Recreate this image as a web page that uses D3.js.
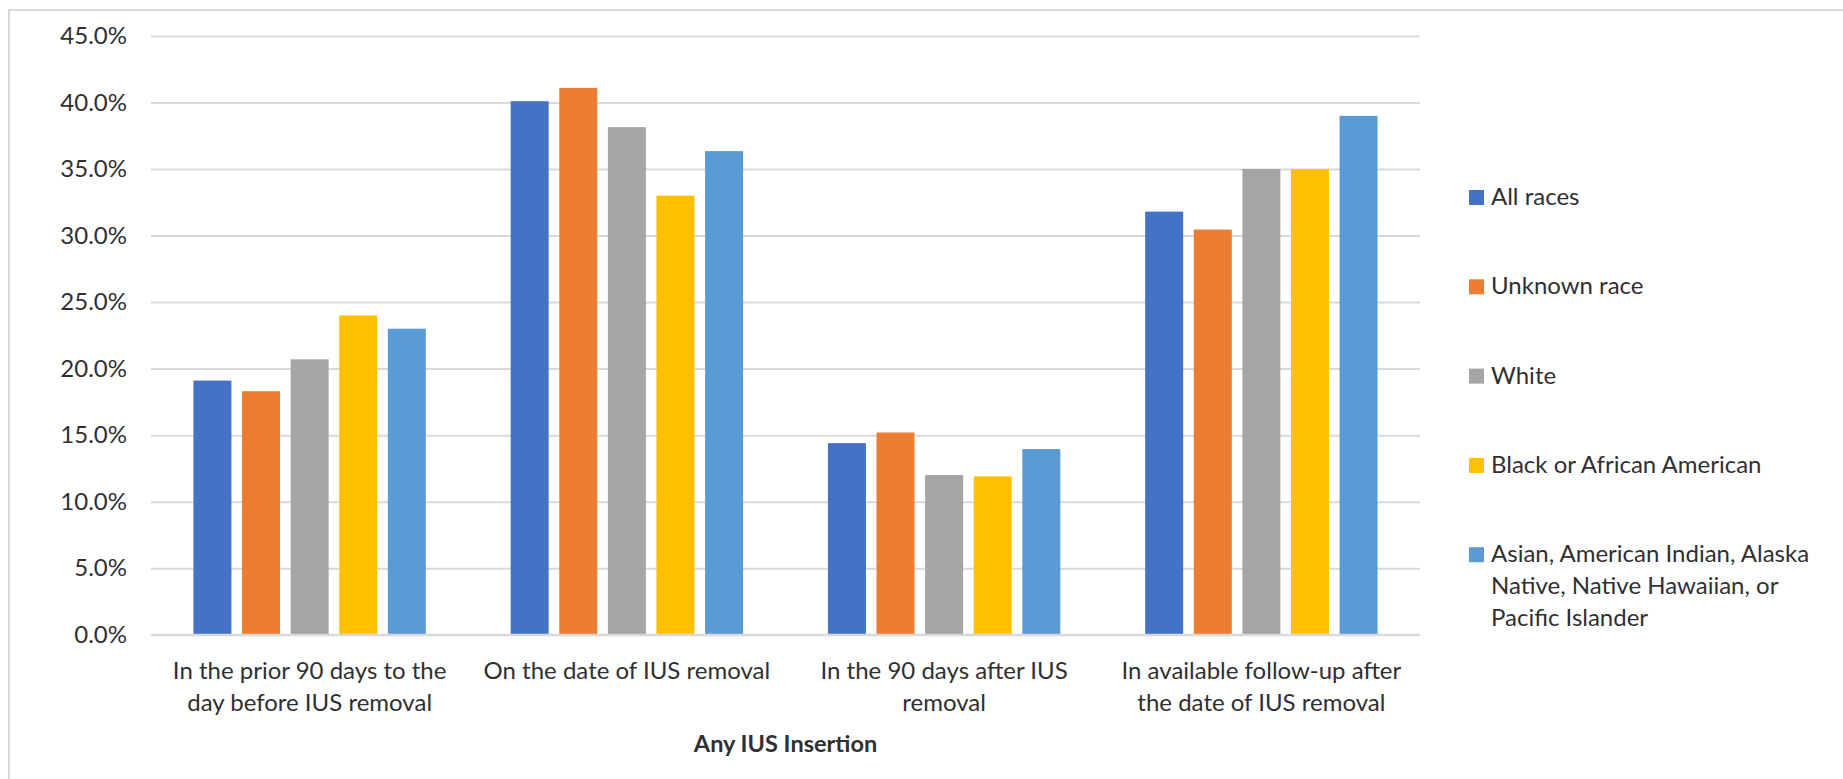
<!DOCTYPE html>
<html>
<head>
<meta charset="utf-8">
<script src="https://cdn.jsdelivr.net/npm/d3@7"></script>
<style>
  html, body { margin: 0; padding: 0; background: #ffffff; }
  svg { display: block; }
  text { font-family: Lato, "Open Sans", sans-serif; fill: #303030; }
</style>
</head>
<body>
<svg id="chart" width="1843" height="779"></svg>
<script>
// ---- data ----
const categories = [
  "In the prior 90 days to the day before IUS removal",
  "On the date of IUS removal",
  "In the 90 days after IUS removal",
  "In available follow-up after the date of IUS removal"
];
const categoryLines = [
  ["In the prior 90 days to the", "day before IUS removal"],
  ["On the date of IUS removal"],
  ["In the 90 days after IUS", "removal"],
  ["In available follow-up after", "the date of IUS removal"]
];
const seriesNames = [
  "All races",
  "Unknown race",
  "White",
  "Black or African American",
  "Asian, American Indian, Alaska Native, Native Hawaiian, or Pacific Islander"
];
const legendLines = [
  ["All races"],
  ["Unknown race"],
  ["White"],
  ["Black or African American"],
  ["Asian, American Indian, Alaska", "Native, Native Hawaiian, or", "Pacific Islander"]
];
const allRaces     = [19.1, 40.1, 14.4, 31.8];
const unknownRace  = [18.3, 41.1, 15.2, 30.45];
const white        = [20.7, 38.15, 12.0, 35.0];
const black        = [24.0, 33.0, 11.9, 35.0];
const asianOther   = [23.0, 36.35, 13.95, 39.0];
const seriesValues = [allRaces, unknownRace, white, black, asianOther];
const yTicks = [0, 5, 10, 15, 20, 25, 30, 35, 40, 45];
const xAxisTitle = "Any IUS Insertion";
const colors = ["#4472C4", "#ED7D31", "#A5A5A5", "#FFC000", "#5B9BD5"];

// ---- layout ----
const svg = d3.select("#chart");
const plot = { left: 151, right: 1420, top: 36, bottom: 634.7 };
const gridColor = "#d9d9d9";
const textColor = "#303030";
const fontSize = 24;

// frame (left & top visible)
svg.append("rect")
  .attr("x", 9).attr("y", 10)
  .attr("width", 1900).attr("height", 900)
  .attr("fill", "none").attr("stroke", gridColor).attr("stroke-width", 2);

const x0 = d3.scaleBand().domain(categories).range([plot.left, plot.right]).padding(0);
const x1 = d3.scaleBand().domain(seriesNames).range([0, x0.bandwidth()])
  .paddingInner(0.218).paddingOuter(0.873);
const y = d3.scaleLinear().domain([0, 45]).range([plot.bottom, plot.top]);

// gridlines
const grid = svg.append("g").attr("transform", `translate(${plot.left},0)`)
  .call(d3.axisLeft(y).tickValues(yTicks).tickSize(-(plot.right - plot.left)).tickFormat(""));
grid.select(".domain").remove();
grid.selectAll(".tick line").attr("stroke", gridColor).attr("stroke-width", 2);

// y labels
const yAxis = svg.append("g").attr("transform", `translate(${plot.left},0)`)
  .call(d3.axisLeft(y).tickValues(yTicks).tickSize(0).tickPadding(24)
    .tickFormat(d => d3.format(".1f")(d) + "%"));
yAxis.select(".domain").remove();
yAxis.selectAll("text")
  .attr("font-size", fontSize).attr("fill", textColor)
  .attr("font-family", "Lato, 'Open Sans', sans-serif");

// bars
const rows = categories.map((c, i) => ({ cat: c, vals: seriesNames.map((s, j) => ({ s, j, v: seriesValues[j][i] })) }));
const groups = svg.append("g").selectAll("g").data(rows).join("g")
  .attr("transform", d => `translate(${x0(d.cat)},0)`);
groups.selectAll("rect").data(d => d.vals).join("rect")
  .attr("x", d => x1(d.s))
  .attr("width", x1.bandwidth())
  .attr("y", d => y(d.v))
  .attr("height", d => y(0) - y(d.v))
  .attr("fill", d => colors[d.j]);

// baseline
svg.append("line")
  .attr("x1", plot.left).attr("x2", plot.right)
  .attr("y1", y(0)).attr("y2", y(0))
  .attr("stroke", gridColor).attr("stroke-width", 2);

// x labels
const xAxis = svg.append("g").attr("transform", `translate(0,${plot.bottom})`)
  .call(d3.axisBottom(x0).tickSize(0).tickFormat(""));
xAxis.select(".domain").remove();
xAxis.selectAll(".tick").each(function(d, i) {
  const t = d3.select(this).append("text")
    .attr("text-anchor", "middle")
    .attr("font-size", fontSize)
    .attr("fill", textColor);
  categoryLines[i].forEach((ln, k) => {
    t.append("tspan").attr("x", 0).attr("y", 44.3 + k * 32).text(ln);
  });
});

// x axis title
svg.append("text")
  .attr("x", (plot.left + plot.right) / 2)
  .attr("y", 751.7)
  .attr("text-anchor", "middle")
  .attr("font-size", 23.5)
  .attr("font-weight", "bold")
  .attr("fill", "#262626")
  .text(xAxisTitle);

// legend
const legend = svg.append("g").attr("transform", "translate(1469,0)");
const items = legend.selectAll("g").data(seriesNames).join("g")
  .attr("transform", (d, i) => `translate(0,${205 + i * 89.3})`);
items.append("rect")
  .attr("x", 0).attr("y", -15).attr("width", 15).attr("height", 15)
  .attr("fill", (d, i) => colors[i]);
items.append("text")
  .attr("font-size", fontSize)
  .attr("fill", textColor)
  .each(function(d, i) {
    const t = d3.select(this);
    legendLines[i].forEach((ln, k) => {
      t.append("tspan").attr("x", 22).attr("y", k * 32).text(ln);
    });
  });
</script>
</body>
</html>
